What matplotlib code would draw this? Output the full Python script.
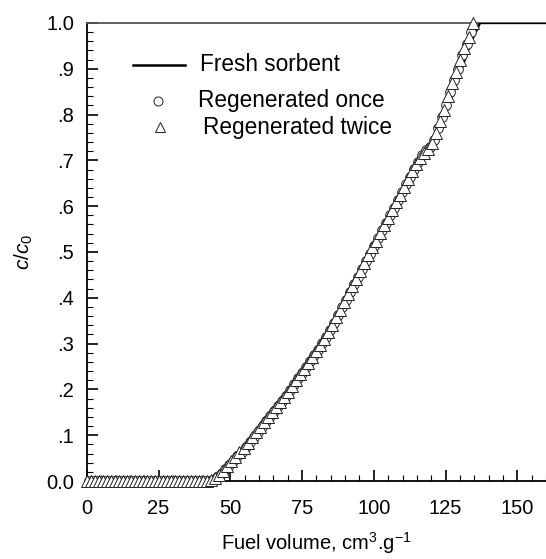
import numpy as np
import matplotlib
matplotlib.use('Agg')
import matplotlib.pyplot as plt
from matplotlib.ticker import MultipleLocator, FixedLocator, FixedFormatter

plt.rcParams['font.family'] = 'Liberation Sans'
plt.rcParams['mathtext.fontset'] = 'custom'
plt.rcParams['mathtext.rm'] = 'Liberation Sans'
plt.rcParams['mathtext.it'] = 'Liberation Sans:italic'

# Fresh sorbent (solid line)
fresh_x = [0, 44, 46, 50, 55, 60, 65, 70, 75, 80, 85, 90, 95, 100, 105, 110, 115, 118, 120, 125, 130, 134, 137, 160]
fresh_y = [0, 0, 0.005, 0.025, 0.06, 0.10, 0.14, 0.18, 0.225, 0.27, 0.32, 0.38, 0.44, 0.50, 0.56, 0.62,
           0.68, 0.71, 0.73, 0.80, 0.89, 0.96, 1.0, 1.0]

# Regenerated once (circles)
once_x = [0.7, 2.1, 3.5, 4.9, 6.3, 7.7, 9.1, 10.5, 11.9, 13.3, 14.7, 16.1, 17.5, 18.9, 20.3, 21.7, 23.1,
          24.5, 25.9, 27.3, 28.7, 30.1, 31.5, 32.9, 34.3, 35.7, 37.1, 38.5, 39.9, 41.3, 42.7,
          44.1, 45.5, 46.9, 48.3, 49.7, 51.1, 52.5, 53.9, 55.3, 56.7, 58.1, 59.5, 60.9, 62.3, 63.7,
          65.1, 66.5, 67.9, 69.3, 70.7, 72.1, 73.5, 74.9, 76.3, 77.7, 79.1, 80.5, 81.9, 83.3, 84.7,
          86.1, 87.5, 88.9, 90.3, 91.7, 93.1, 94.5, 95.9, 97.3, 98.7, 100.1, 101.5, 102.9, 104.3,
          105.7, 107.1, 108.5, 109.9, 111.3, 112.7, 114.1, 115.5, 116.9, 118.3, 119.7, 121.1, 122.5,
          123.9, 125.3, 126.7, 128.1, 129.5, 130.9, 132.3, 133.7]
once_y = [0] * 31 + [
    0.003, 0.008, 0.016, 0.026, 0.034, 0.044, 0.054, 0.064, 0.074, 0.086,
    0.097, 0.108, 0.119, 0.130, 0.142, 0.153, 0.164, 0.175, 0.186, 0.198,
    0.211, 0.224, 0.236, 0.249, 0.261, 0.274, 0.287, 0.301, 0.315, 0.329,
    0.345, 0.362, 0.379, 0.396, 0.412, 0.429, 0.446, 0.463, 0.480, 0.496,
    0.513, 0.530, 0.547, 0.564, 0.580, 0.597, 0.614, 0.631, 0.648, 0.664,
    0.681, 0.697, 0.711, 0.722, 0.730, 0.745, 0.770, 0.795, 0.820, 0.850,
    0.875, 0.900, 0.930, 0.955, 0.980]

# Regenerated twice (triangles)
twice_x = [0, 1.4, 2.8, 4.2, 5.6, 7, 8.4, 9.8, 11.2, 12.6, 14, 15.4, 16.8, 18.2, 19.6, 21, 22.4, 23.8,
           25.2, 26.6, 28, 29.4, 30.8, 32.2, 33.6, 35, 36.4, 37.8, 39.2, 40.6, 42,
           43.4, 44.8, 46.2, 47.6, 49, 50.4, 51.8, 53.2, 54.6, 56, 57.4, 58.8, 60.2, 61.6, 63,
           64.4, 65.8, 67.2, 68.6, 70, 71.4, 72.8, 74.2, 75.6, 77, 78.4, 79.8, 81.2, 82.6, 84,
           85.4, 86.8, 88.2, 89.6, 91, 92.4, 93.8, 95.2, 96.6, 98, 99.4, 100.8, 102.2, 103.6,
           105, 106.4, 107.8, 109.2, 110.6, 112, 113.4, 114.8, 116.2, 117.6, 119, 120.4, 121.8,
           123.2, 124.6, 126, 127.4, 128.8, 130.2, 131.6, 133, 134.4]
twice_y = [0] * 31 + [
    0.003, 0.006, 0.014, 0.022, 0.032, 0.043, 0.053, 0.064, 0.072, 0.083,
    0.095, 0.106, 0.117, 0.128, 0.139, 0.150, 0.161, 0.172, 0.184, 0.195,
    0.208, 0.220, 0.233, 0.245, 0.258, 0.270, 0.283, 0.297, 0.311, 0.325,
    0.340, 0.357, 0.374, 0.391, 0.408, 0.425, 0.442, 0.459, 0.476, 0.493,
    0.510, 0.525, 0.542, 0.558, 0.575, 0.592, 0.609, 0.625, 0.642, 0.659,
    0.676, 0.692, 0.706, 0.716, 0.724, 0.738, 0.760, 0.785, 0.810, 0.840,
    0.868, 0.892, 0.920, 0.945, 0.970, 1.000]

y_ticks = [0, 0.1, 0.2, 0.3, 0.4, 0.5, 0.6, 0.7, 0.8, 0.9, 1.0]
y_labels = ['0.0', '.1', '.2', '.3', '.4', '.5', '.6', '.7', '.8', '.9', '1.0']
x_ticks = [0, 25, 50, 75, 100, 125, 150]
legend_labels = ['Fresh sorbent', 'Regenerated once', 'Regenerated twice']

fig = plt.figure(figsize=(5.46, 5.59), dpi=100)
ax = fig.add_axes([0.159, 0.1395, 0.841, 0.8195])

ax.plot(fresh_x, fresh_y, color='black', lw=1.8, zorder=3)
ax.plot(once_x, once_y, ls='none', marker='o', ms=7, mfc='white', mec='#222222', mew=0.7,
        clip_on=False, zorder=4)
ax.plot(twice_x, twice_y, ls='none', marker='^', ms=8.5, mfc='white', mec='#222222', mew=0.7,
        clip_on=False, zorder=5)

# legend drawn by hand (rows are unevenly spaced in the original)
tr = ax.transAxes
ax.plot([0.100, 0.214], [0.909, 0.909], color='black', lw=1.8, transform=tr)
ax.plot([0.155], [0.830], ls='none', marker='o', ms=6.5, mfc='white', mec='#222222', mew=0.7, transform=tr)
ax.plot([0.160], [0.772], ls='none', marker='^', ms=6.5, mfc='white', mec='#222222', mew=0.7, transform=tr)
ax.text(0.246, 0.909, legend_labels[0], transform=tr, fontsize=16.3, va='center')
ax.text(0.242, 0.830, legend_labels[1], transform=tr, fontsize=16.3, va='center')
ax.text(0.253, 0.772, legend_labels[2], transform=tr, fontsize=16.3, va='center')

ax.set_xlim(0, 160)
ax.set_ylim(0, 1.0)
ax.xaxis.set_major_locator(FixedLocator(x_ticks))
ax.xaxis.set_minor_locator(MultipleLocator(5))
ax.yaxis.set_major_locator(FixedLocator(y_ticks))
ax.yaxis.set_major_formatter(FixedFormatter(y_labels))
ax.yaxis.set_minor_locator(MultipleLocator(0.02))

ax.tick_params(which='both', direction='in', top=False, right=False, labelsize=14.5)
ax.tick_params(which='major', length=8, width=1.2)
ax.tick_params(which='minor', length=4, width=0.8)
ax.tick_params(axis='y', pad=9)
ax.tick_params(axis='x', pad=13)

ax.spines['right'].set_visible(False)
for s in ['left', 'top', 'bottom']:
    ax.spines[s].set_linewidth(1.3)
ax.spines['top'].set_color('#555555')

ax.set_xlabel('Fuel volume, cm$^{3}$.g$^{-1}$', fontsize=14.5, labelpad=9)
ax.set_ylabel('$c/c_0$', fontsize=15, labelpad=8)

fig.savefig('out.png', dpi=100)
